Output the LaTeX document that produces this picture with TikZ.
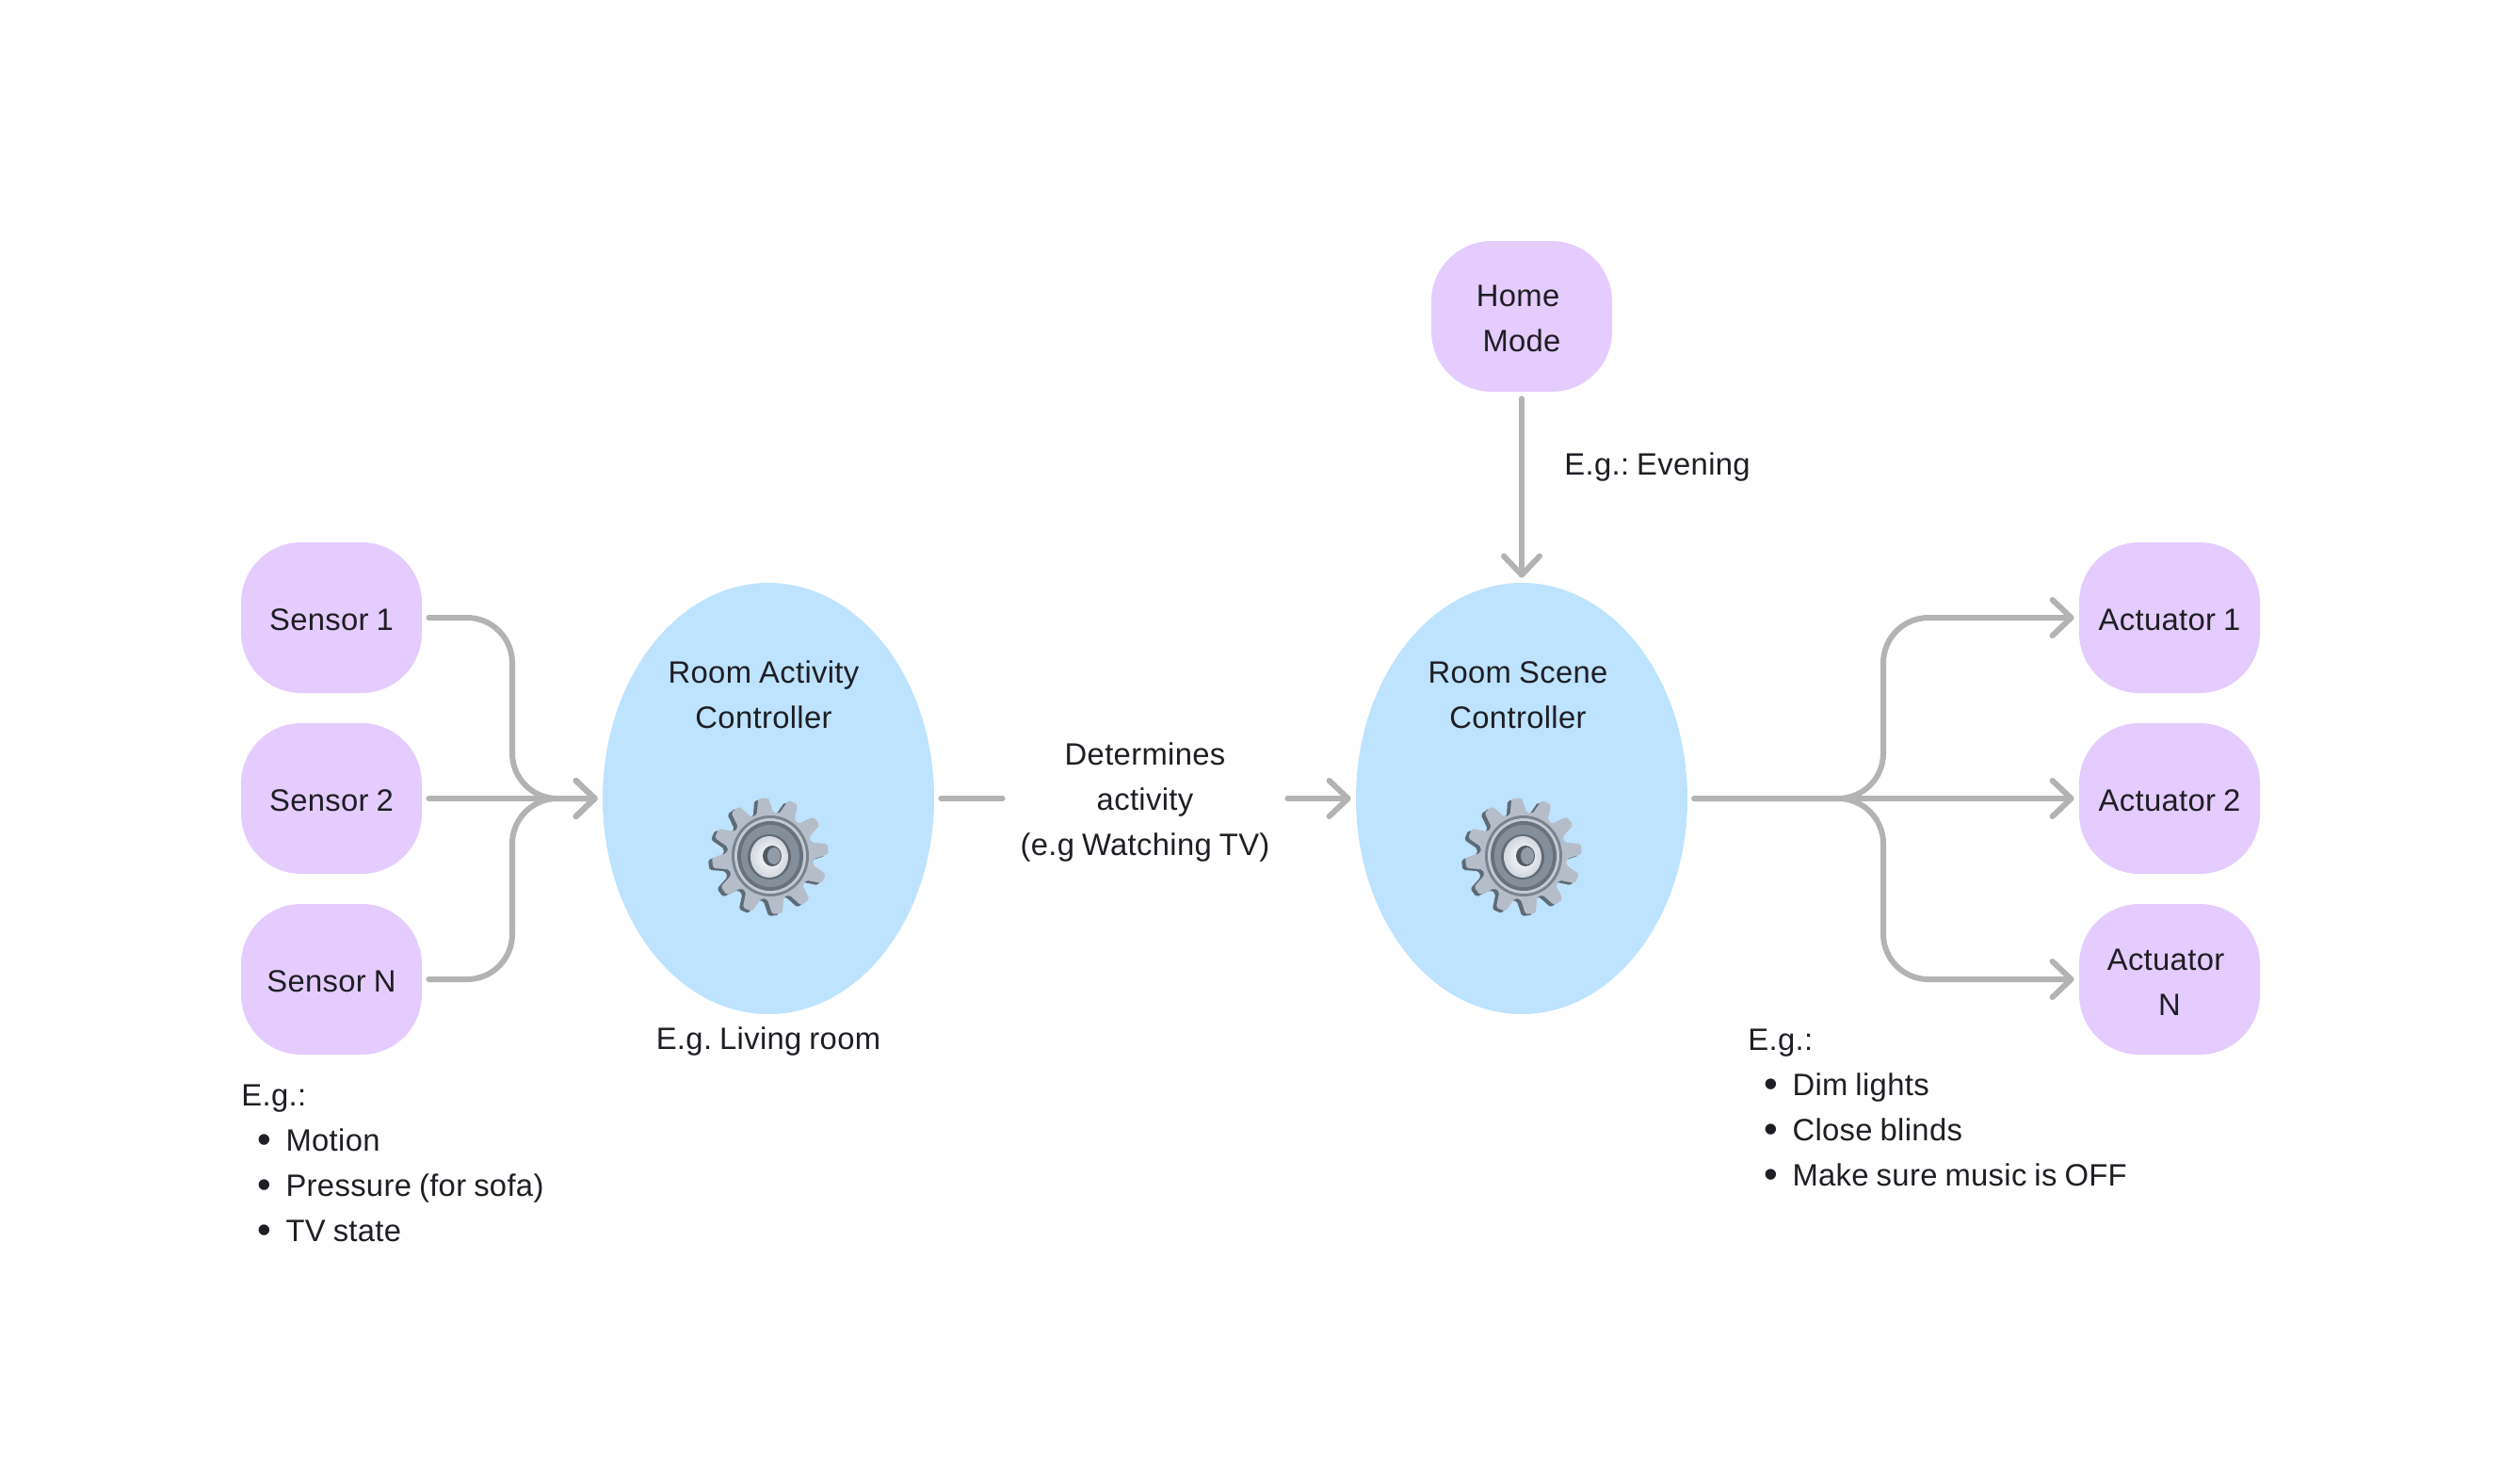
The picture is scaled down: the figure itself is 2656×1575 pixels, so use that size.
\documentclass[tikz,border=0pt]{standalone}
\usepackage{fontspec}
\setmainfont[LetterSpace=1,WordSpace=0.85]{Liberation Sans}
\frenchspacing
\usetikzlibrary{arrows.meta,shapes.geometric}
\definecolor{boxfill}{HTML}{E4CCFF}
\definecolor{ctrlfill}{HTML}{BDE3FF}
\definecolor{flowgrey}{HTML}{B3B3B3}
\definecolor{inktext}{HTML}{1E1E24}
\definecolor{gearface}{HTML}{B5BDC8}
\definecolor{gearside}{HTML}{5E6A75}
\newcommand{\listdot}{\hspace*{8.6pt}\raisebox{-1pt}{\fontsize{21}{24}\selectfont\textbullet}\hspace*{7.6pt}}
\newcommand{\struttext}[2][1.8pt]{\raisebox{-#1}[\height][\depth]{\begin{tabular}{@{}c@{}}#2\end{tabular}}}
\tikzset{
  every node/.style={text=inktext,font=\fontsize{16.4}{24}\selectfont,inner sep=0pt,align=center},
  devicebox/.style={fill=boxfill,rounded corners=32pt,minimum width=96pt,minimum height=80pt},
  ctrlblob/.style={fill=ctrlfill,ellipse,minimum width=176pt,minimum height=229pt},
  flowline/.style={draw=flowgrey,line width=3pt,line cap=round,shorten <=3.5pt},
  flowarrow/.style={flowline,shorten >=2.5pt,-{Straight Barb[length=10pt,width=19pt,round]}},
  gearwheel/.pic={
    \fill[gearside,rounded corners=1pt,shift={(-4,2)}] (-22:46)
      \foreach \a in {-7,23,...,323} { -- (\a-11:46) -- (\a-5:62) -- (\a+5:62) -- (\a+11:46) } -- cycle;
    \fill[gearface,rounded corners=1pt] (-22:46)
      \foreach \a in {-7,23,...,323} { -- (\a-11:46) -- (\a-5:62) -- (\a+5:62) -- (\a+11:46) } -- cycle;
    \fill[gearside!70!gearface] (0,0) ellipse [x radius=41,y radius=43];
    \fill[gearface!80!white] (0,0) ellipse [x radius=38,y radius=40];
    \fill[gearside!90!gearface] (0,0) ellipse [x radius=35,y radius=37];
    \fill[gearside!55!gearface] (0,0) ellipse [x radius=31,y radius=33];
    \fill[gearside] (-1,1) ellipse [x radius=23,y radius=24];
    \shade[inner color=white,outer color=gearface!60!white] (-1,1) ellipse [x radius=20,y radius=22];
    \fill[gearside!85!black] (2,0) ellipse [x radius=10,y radius=11];
    \fill[gearface!60!gearside] (4,0) ellipse [x radius=7,y radius=9];
  }
}
\begin{document}
\begin{tikzpicture}[x=0.5pt,y=-0.5pt]
  \useasboundingbox (0,0) rectangle (2656,1575);
  \draw
    (352,656) node[devicebox] (sensor1){\struttext{Sensor 1}}
    (352,848) node[devicebox] (sensor2){\struttext{Sensor 2}}
    (352,1040) node[devicebox] (sensorN){\struttext{Sensor N}}
    (1616,336) node[devicebox] (homemode){\struttext{Home\kern4pt\\Mode}}
    (2304,656) node[devicebox] (actuator1){\struttext{Actuator 1}}
    (2304,848) node[devicebox] (actuator2){\struttext{Actuator 2}}
    (2304,1040) node[devicebox] (actuatorN){\struttext[2.3pt]{Actuator\kern4pt\\N}}
    (816,848) node[ctrlblob] (activity){}
    (1616,848) node[ctrlblob] (scene){};
  \draw
    (811,738) node (activitytext){Room Activity\\Controller}
    (1612,738) node (scenetext){Room Scene\\Controller}
    (816,1106) node (roomnote){E.g. Living room}
    (1216,848) node[minimum width=151pt] (determines){\struttext[1.2pt]{Determines\\activity\\(e.g Watching TV)}}
    (1661,496) node[anchor=west] (modenote){E.g.: Evening}
    (256,1152) node[anchor=north west,align=left] (sensornote){E.g.:\\
      \listdot Motion\\
      \listdot Pressure (for sofa)\\
      \listdot TV state}
    (1856,1093) node[anchor=north west,align=left] (actuatornote){E.g.:\\
      \listdot Dim lights\\
      \listdot Close blinds\\
      \listdot Make sure music is OFF};
  \pic at (818,909) {gearwheel};
  \pic at (1618,909) {gearwheel};
  \coordinate (mergein) at (544,848);
  \coordinate (splitout) at (2000,848);
  \begin{scope}[rounded corners=24pt]
    \draw[flowarrow] (sensor1.east) -| (mergein) -- (activity.west);
    \draw[flowarrow] (sensorN.east) -| (mergein) -- (activity.west);
    \draw[flowarrow] (scene.east) -- (splitout) |- (actuator1.west);
    \draw[flowarrow] (scene.east) -- (splitout) |- (actuatorN.west);
  \end{scope}
  \draw[flowarrow] (sensor2.east) to (activity.west);
  \draw[flowarrow] (scene.east) to (actuator2.west);
  \draw[flowarrow] (homemode.south) to (scene.north);
  \draw[flowline] (activity.east) to (determines.west);
  \draw[flowarrow,shorten <=0pt] (determines.east) to (scene.west);
\end{tikzpicture}
\end{document}
